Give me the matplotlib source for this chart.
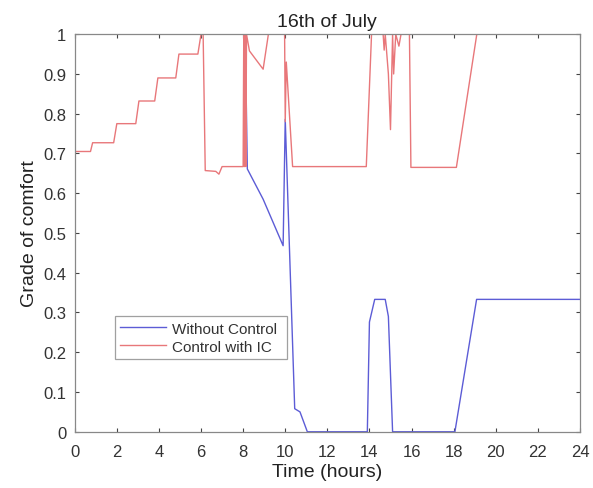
import matplotlib
matplotlib.use("Agg")
import matplotlib.pyplot as plt
import numpy as np

plt.rcParams['font.family'] = ['Liberation Sans', 'DejaVu Sans']

# Without Control (blue)
t_blue = [0, 8.1, 8.2, 8.95, 9.9, 10.0, 10.45, 10.7, 11.05, 13.9, 14.0, 14.25,
          14.75, 14.9, 15.1, 18.06, 19.09, 24]
y_blue = [1, 1, 0.661, 0.585, 0.468, 0.786, 0.058, 0.05, 0, 0, 0.276, 0.333,
          0.333, 0.29, 0, 0, 0.333, 0.333]

# Control with IC (red)
t_red = [0, 0.75, 0.85, 1.85, 2.0, 2.9, 3.05, 3.8, 3.95, 4.8, 4.95, 5.85, 6.0, 6.1,
         6.2, 6.7, 6.85, 7.0, 8.0, 8.03, 8.06, 8.1, 8.13, 8.16, 8.3, 8.95, 9.2,
         9.97, 10.0, 10.05, 10.35, 13.85, 14.1, 14.65, 14.7, 14.75, 14.9, 15.0,
         15.1, 15.15, 15.25, 15.4, 15.5, 15.9, 15.97, 18.13, 19.1, 24]
y_red = [0.705, 0.705, 0.727, 0.727, 0.775, 0.775, 0.832, 0.832, 0.89, 0.89, 0.95,
         0.95, 1.0, 1.0, 0.657, 0.655, 0.648, 0.667, 0.667, 1.0, 0.667, 1.0, 0.667,
         1.0, 0.958, 0.912, 1.0, 1.0, 0.78, 0.93, 0.667, 0.667, 1.0, 1.0, 0.96,
         1.0, 0.9, 0.76, 1.0, 0.9, 1.0, 0.97, 1.0, 1.0, 0.665, 0.665, 1.0, 1.0]

xticks = np.arange(0, 25, 2)
yticks = np.round(np.arange(0, 1.01, 0.1), 1)
ytick_labels = ['0', '0.1', '0.2', '0.3', '0.4', '0.5', '0.6', '0.7', '0.8', '0.9', '1']

fig = plt.figure(figsize=(5.93, 4.89), dpi=100)
ax = fig.add_axes([0.126, 0.115, 0.852, 0.813])

ax.plot(t_blue, y_blue, color='#5c5cd6', lw=1.0, label='Without Control')
ax.plot(t_red, y_red, color='#e8777a', lw=1.0, label='Control with IC')

ax.set_xlim(0, 24)
ax.set_ylim(0, 1)
ax.set_xticks(xticks)
ax.set_yticks(yticks)
ax.set_yticklabels(ytick_labels)
ax.tick_params(direction='in', top=True, right=True, length=3, labelsize=12,
               colors='#444444', labelcolor='#333333')
ax.tick_params(axis='x', pad=9)
ax.tick_params(axis='y', pad=6)
for s in ax.spines.values():
    s.set_color('#888888')
    s.set_linewidth(0.9)

ax.set_title('16th of July', fontsize=14, color='#222222', pad=6)
ax.set_xlabel('Time (hours)', fontsize=14, color='#222222', labelpad=3)
ax.set_ylabel('Grade of comfort', fontsize=14, color='#222222', labelpad=4)

leg = ax.legend(loc='lower left', bbox_to_anchor=(0.079, 0.183, 0.341, 0.126),
                mode='expand', fontsize=11, frameon=True, fancybox=False,
                handlelength=3.0, borderpad=0.35, labelspacing=0.25, handletextpad=0.4,
                borderaxespad=0)
leg.get_frame().set_edgecolor('#888888')
leg.get_frame().set_linewidth(0.9)
for txt in leg.get_texts():
    txt.set_color('#333333')

fig.savefig('out.png', dpi=100)
